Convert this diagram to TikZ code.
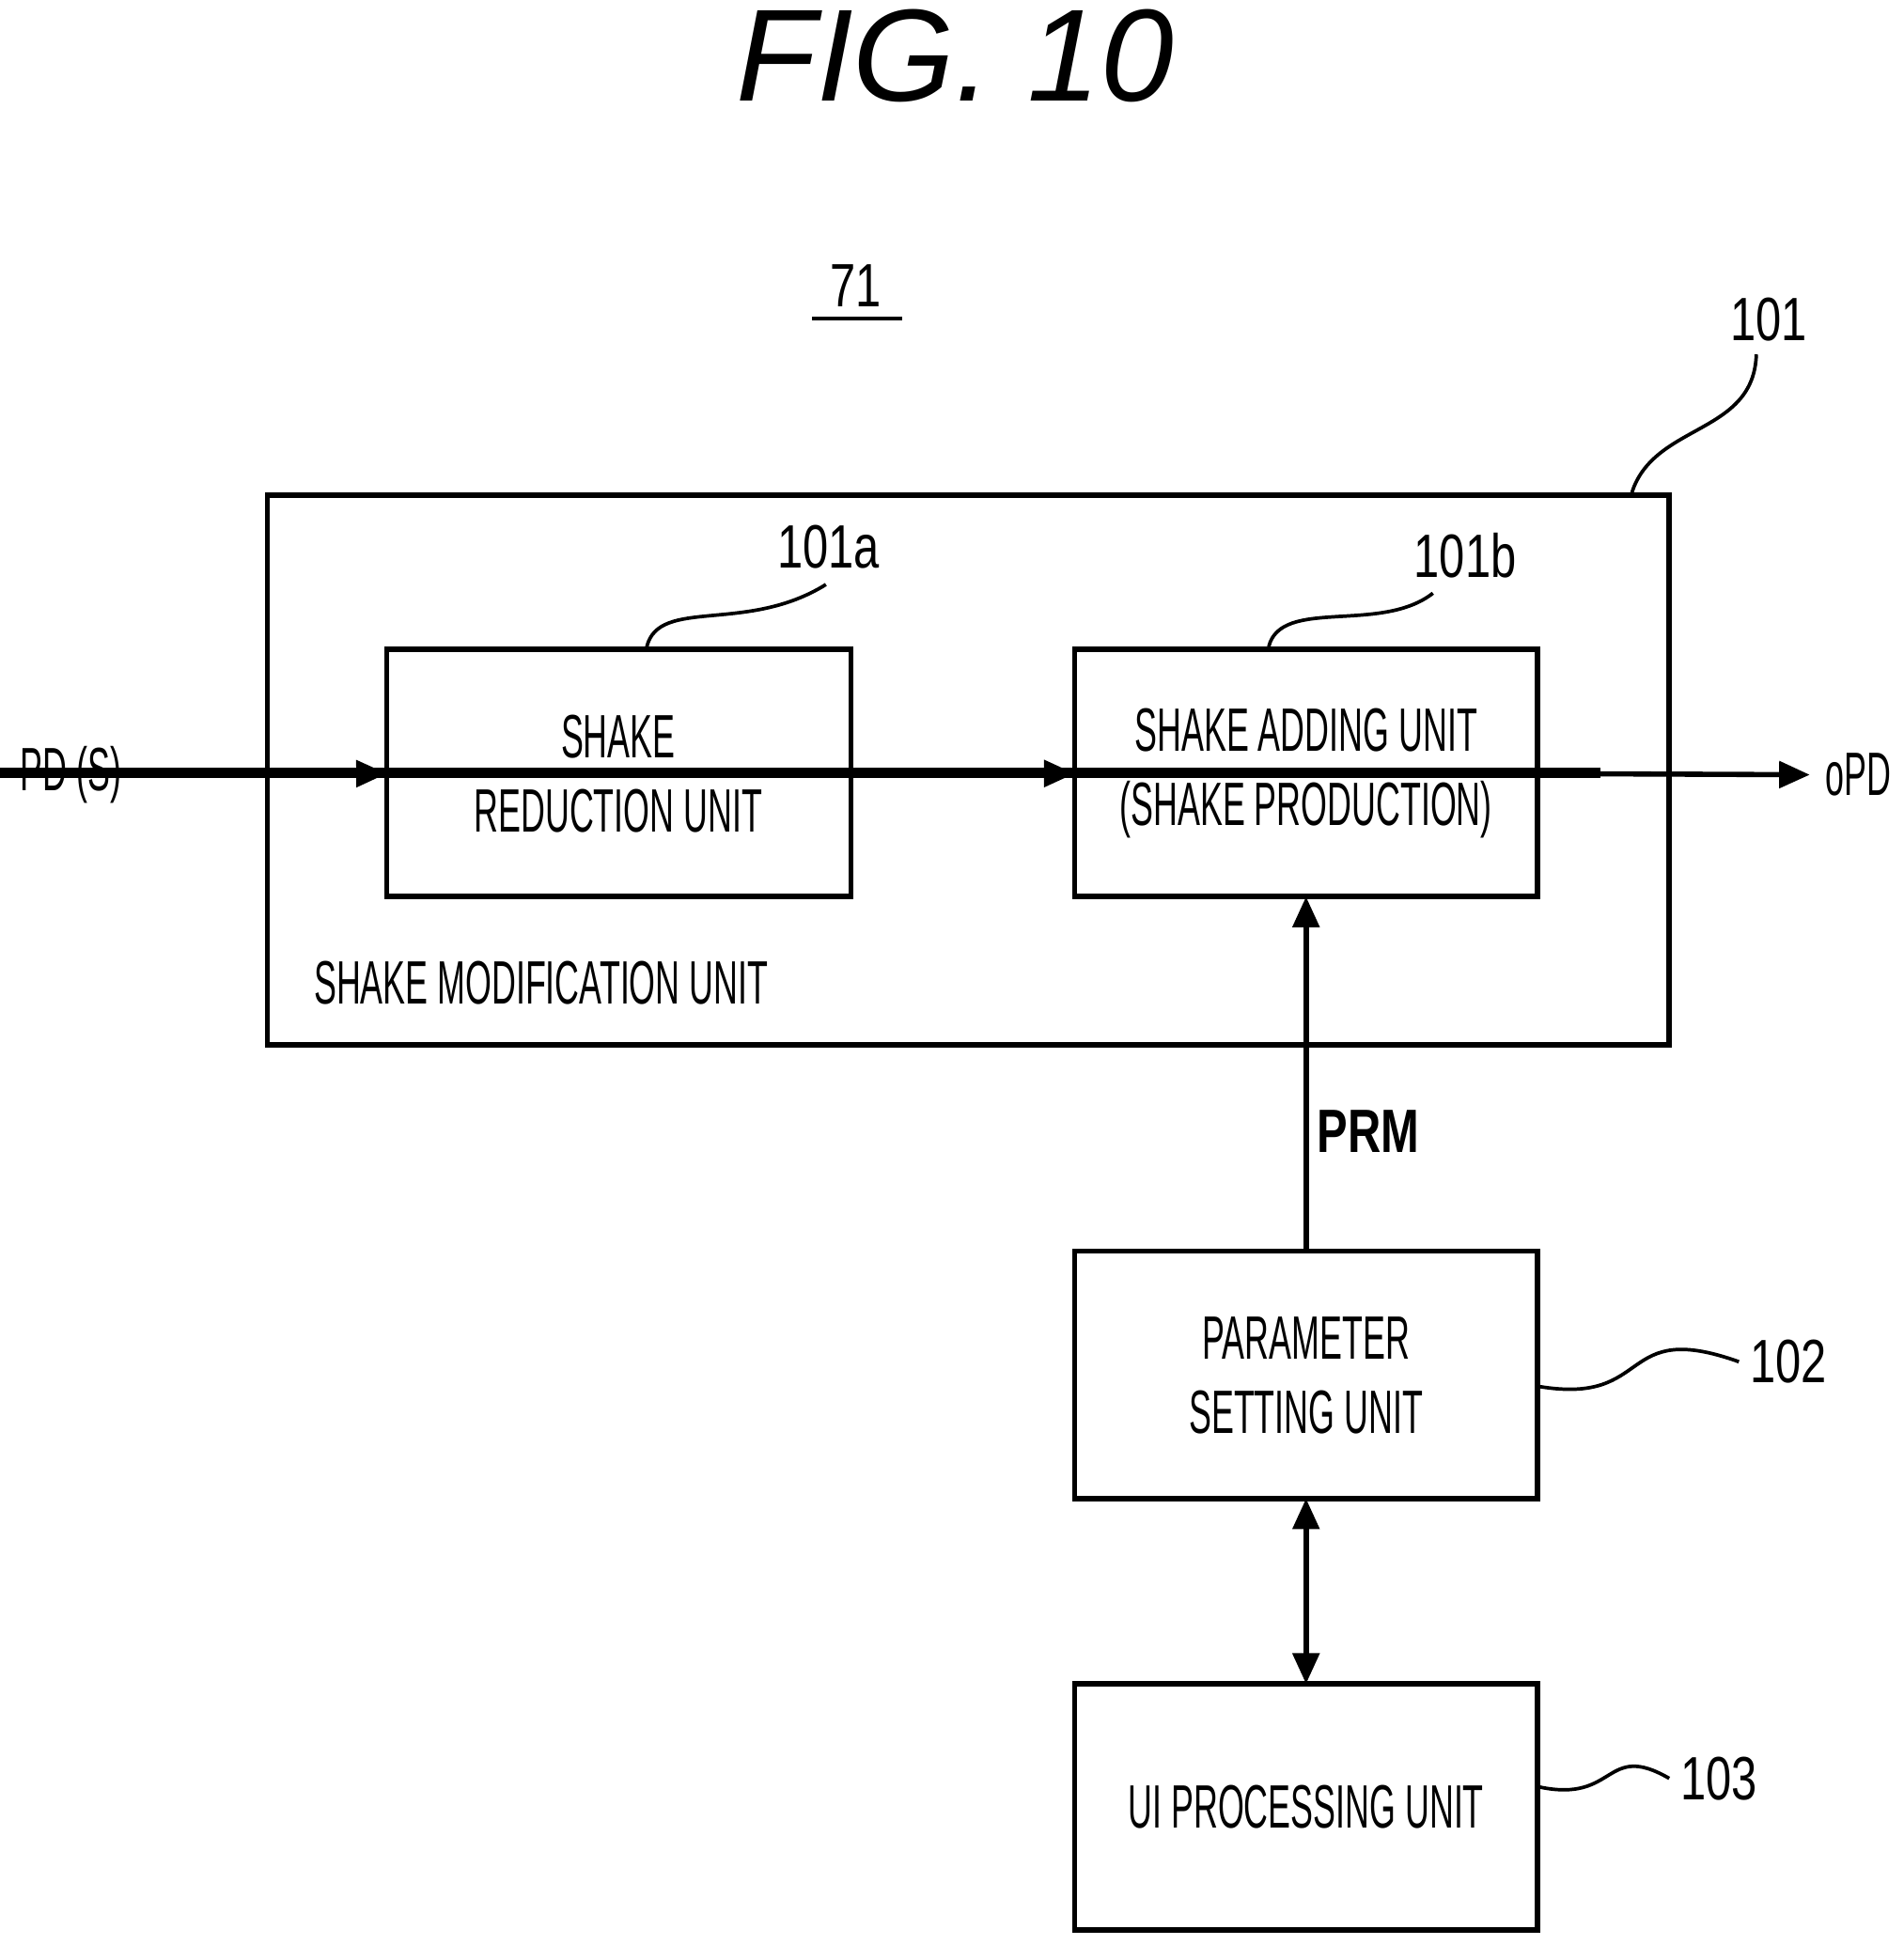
\documentclass[tikz,border=0pt]{standalone}
\usepackage{fontspec}
\setmainfont{Liberation Sans}
\newfontfamily\nar[FakeStretch=0.55]{Liberation Sans}
\newfontfamily\numf[FakeStretch=0.75]{Liberation Sans}
\usetikzlibrary{arrows.meta}
\begin{document}
\begin{tikzpicture}[x=0.01cm,y=-0.01cm,
  box/.style={draw,line width=1.2pt,inner sep=0},
  txt/.style={font=\nar\fontsize{14}{17}\selectfont,align=center},
  num/.style={font=\numf\fontsize{14}{17}\selectfont},
  arr/.style={line width=1.2pt,-{Triangle[length=7pt,width=6pt]}},
  lead/.style={line width=0.8pt}]
\useasboundingbox (0,0) rectangle (1530,1564);
\node[font=\itshape\fontsize{30}{34}\selectfont] (title) at (768,45) {FIG. 10};
\node[num] (n71) at (688,230) {71};
\draw[lead] (653,256) coordinate (u1) -- (725,256) coordinate (u2);
\draw[box] (215,398) rectangle (1342,840);
\node[box,minimum width=373\pgflinewidth] (a) at (497.5,621.5) {};
\path[box] (311,522) rectangle (684,721);
\node[txt] (at) at (497,622) {SHAKE\\REDUCTION UNIT};
\node[inner sep=0] (A) at (497.5,621.5) {};
\draw[box] (864,522) rectangle (1236,721);
\node[txt] (bt) at (1050,622) {SHAKE ADDING UNIT\\(SHAKE PRODUCTION)};
\node[txt,anchor=west] (smu) at (240,790) {SHAKE MODIFICATION UNIT};
\draw[box] (864,1006) rectangle (1236,1205);
\node[txt] (pt) at (1050,1106) {PARAMETER\\SETTING UNIT};
\draw[box] (864,1354) rectangle (1236,1552);
\node[txt] (ut) at (1050,1453) {UI PROCESSING UNIT};
\coordinate (ain) at (311,622); \coordinate (aout) at (684,622);
\coordinate (bin) at (864,622); \coordinate (bout) at (1236,622);
\coordinate (bbot) at (1050,721); \coordinate (ptop) at (1050,1006);
\coordinate (pbot) at (1050,1205); \coordinate (utop) at (1050,1354);
\node[txt,anchor=east] (pd) at (110,623) {PD (S)};
\node[txt,anchor=west] (opd) at (1455,623) {oPD};
\draw[arr] (pd.east)++(22,0) coordinate (pds) -- (ain);
\draw[arr] (aout) -- (bin);
\draw[arr] (bout) -- (opd.west);
\draw[arr] (ptop) -- (bbot);
\draw[line width=1.2pt,{Triangle[length=7pt,width=6pt]}-{Triangle[length=7pt,width=6pt]}] (pbot) -- (utop);
\node[font=\numf\bfseries\fontsize{14}{17}\selectfont] (prm) at (1100,910) {PRM};
\node[num] (l101) at (1422,257) {101};
\node[num] (l101a) at (666,440) {101a};
\node[num] (l101b) at (1178,447) {101b};
\node[num] (l102) at (1438,1095) {102};
\node[num] (l103) at (1382,1430) {103};
\draw[lead] (1312,396) .. controls (1330,340) and (1410,350) .. (1412,285);
\draw[lead] (520,520) .. controls (530,480) and (600,510) .. (664,470);
\draw[lead] (1020,520) .. controls (1030,480) and (1110,510) .. (1152,477);
\draw[lead] (1238,1115) .. controls (1330,1130) and (1300,1060) .. (1398,1095);
\draw[lead] (1238,1437) .. controls (1300,1450) and (1290,1400) .. (1342,1430);
\end{tikzpicture}
\end{document}
